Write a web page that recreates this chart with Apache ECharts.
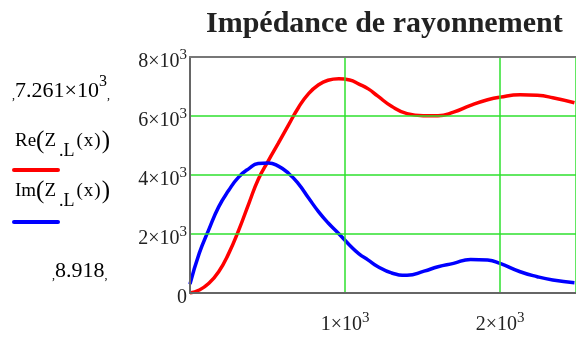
<!DOCTYPE html>
<html>
<head>
<meta charset="utf-8">
<script src="https://cdn.jsdelivr.net/npm/echarts@6/dist/echarts.min.js"></script>
<style>
html,body{margin:0;padding:0;background:#fff;}
#c{width:576px;height:338px;}
</style>
</head>
<body>
<div id="c"></div>
<script>
const titleText = 'Impédance de rayonnement';
const xVals  = [0, 60, 120, 185, 250, 315, 380, 440, 505, 570, 635, 700, 765, 830, 890, 960, 1030, 1090, 1150, 1210, 1300, 1400, 1510, 1600, 1700, 1810, 1920, 2000, 2130, 2240, 2340, 2480];
const reVals = [0, 100, 320, 720, 1343, 2140, 3040, 3850, 4480, 5080, 5690, 6290, 6760, 7060, 7210, 7261, 7220, 7080, 6920, 6680, 6330, 6080, 6012, 6010, 6130, 6360, 6550, 6640, 6720, 6700, 6620, 6450];
const imVals = [300, 1350, 2130, 2920, 3480, 3936, 4218, 4387, 4410, 4300, 4060, 3700, 3220, 2750, 2380, 2010, 1620, 1330, 1116, 900, 680, 600, 740, 890, 1004, 1139, 1116, 1004, 721, 552, 440, 345];
const xTicks = [0, 1000, 2000];
const xTickLabels = ['', '1×10^3', '2×10^3'];
const yTicks = [0, 2000, 4000, 6000, 8000];
const yTickLabels = ['0', '2×10^3', '4×10^3', '6×10^3', '8×10^3'];
const seriesNames = ['Re(Z.L(x))', 'Im(Z.L(x))'];
const limitTop = '7.261×10^3';
const limitBottom = '8.918';

const FONT = '"Liberation Serif", "DejaVu Serif", serif';
function toRich(s) {
  if (s === '') return '';
  const i = s.indexOf('^');
  if (i < 0) return '{a|' + s + '}';
  return '{a|' + s.slice(0, i) + '}{s|' + s.slice(i + 1) + '}';
}
const richStyle = {
  a: {fontFamily: FONT, fontSize: 20, color: '#222', lineHeight: 20, padding: [10, 0, 0, 0]},
  s: {fontFamily: FONT, fontSize: 15, color: '#222', lineHeight: 15, padding: [6, 0, 9, 0]}
};
const limitRich = {
  a: {fontFamily: FONT, fontSize: 22, color: '#222', lineHeight: 22, padding: [10, 0, 0, 0]},
  s: {fontFamily: FONT, fontSize: 16, color: '#222', lineHeight: 16, padding: [4, 0, 12, 0]},
  m: {fontFamily: FONT, fontSize: 12, color: '#444', lineHeight: 12, padding: [20, 0, 0, 0]}
};
function labelFor(ticks, labels) {
  return function (v) {
    const k = ticks.indexOf(v);
    return k < 0 ? '' : toRich(labels[k]);
  };
}
function legendRich(name) {
  const p = name.indexOf('(');
  const head = name.slice(0, p);
  return '{t|' + head + '}{p|(}{t|Z}{sub|.L}{q|(}{t|x}{q|)}{p|)}';
}
const legendStyle = {
  t: {fontFamily: FONT, fontSize: 19, color: '#222', lineHeight: 24},
  p: {fontFamily: FONT, fontSize: 25, color: '#444', lineHeight: 26},
  q: {fontFamily: FONT, fontSize: 19, color: '#222', lineHeight: 24, padding: [0, 1, 0, 1]},
  sub: {fontFamily: FONT, fontSize: 18, color: '#222', lineHeight: 18, padding: [20, 1, 0, 3]}
};

const chart = echarts.init(document.getElementById('c'));
const xMax = 2490;
chart.setOption({
  animation: false,
  backgroundColor: '#fff',
  title: {
    text: titleText, left: 201, top: 4,
    textStyle: {fontFamily: FONT, fontSize: 30, fontWeight: 'bold', color: '#222'}
  },
  grid: {left: 190, top: 57, right: -3, bottom: 45, show: false},
  xAxis: [{
    type: 'value', min: 0, max: xMax, interval: 1000,
    axisLine: {show: true, lineStyle: {color: '#666', width: 2}},
    axisTick: {show: false},
    splitLine: {show: true, lineStyle: {color: '#2ee02e', width: 1.5}},
    axisLabel: {margin: 17, showMaxLabel: false, formatter: labelFor(xTicks, xTickLabels), rich: richStyle},
    z: 5
  }, {
    type: 'value', position: 'top', min: 0, max: xMax,
    axisLine: {show: true, onZero: false, lineStyle: {color: '#777', width: 2}},
    axisTick: {show: false}, axisLabel: {show: false}, splitLine: {show: false},
    z: 5
  }],
  yAxis: {
    type: 'value', min: 0, max: 8000, interval: 2000,
    axisLine: {show: true, lineStyle: {color: '#666', width: 2}},
    axisTick: {show: false},
    splitLine: {show: true, lineStyle: {color: '#2ee02e', width: 1.5}},
    axisLabel: {margin: 3, formatter: labelFor(yTicks, yTickLabels), rich: richStyle},
    z: 5
  },
  series: [{
    name: seriesNames[0], type: 'line', smooth: 0.5, showSymbol: false, xAxisIndex: 0,
    data: xVals.map((x, i) => [x, reVals[i]]),
    lineStyle: {color: '#ff0000', width: 3.5}, itemStyle: {color: '#ff0000'}, z: 3
  }, {
    name: seriesNames[1], type: 'line', smooth: 0.5, showSymbol: false, xAxisIndex: 0,
    data: xVals.map((x, i) => [x, imVals[i]]),
    lineStyle: {color: '#0000ff', width: 3.5}, itemStyle: {color: '#0000ff'}, z: 4
  }],
  graphic: [
    {type: 'text', left: 12, top: 70, style: {text: '{m|,}' + toRich(limitTop) + '{m|,}', rich: limitRich}},
    {type: 'text', left: 15, top: 122, style: {text: legendRich(seriesNames[0]), rich: legendStyle}},
    {type: 'rect', shape: {x: 12, y: 168, width: 48, height: 4, r: 2}, style: {fill: '#ff0000'}},
    {type: 'text', left: 15, top: 172, style: {text: legendRich(seriesNames[1]), rich: legendStyle}},
    {type: 'rect', shape: {x: 12, y: 220, width: 48, height: 4, r: 2}, style: {fill: '#0000ff'}},
    {type: 'text', left: 52, top: 250, style: {text: '{m|,}' + toRich(limitBottom) + '{m|,}', rich: limitRich}}
  ]
});
</script>
</body>
</html>
